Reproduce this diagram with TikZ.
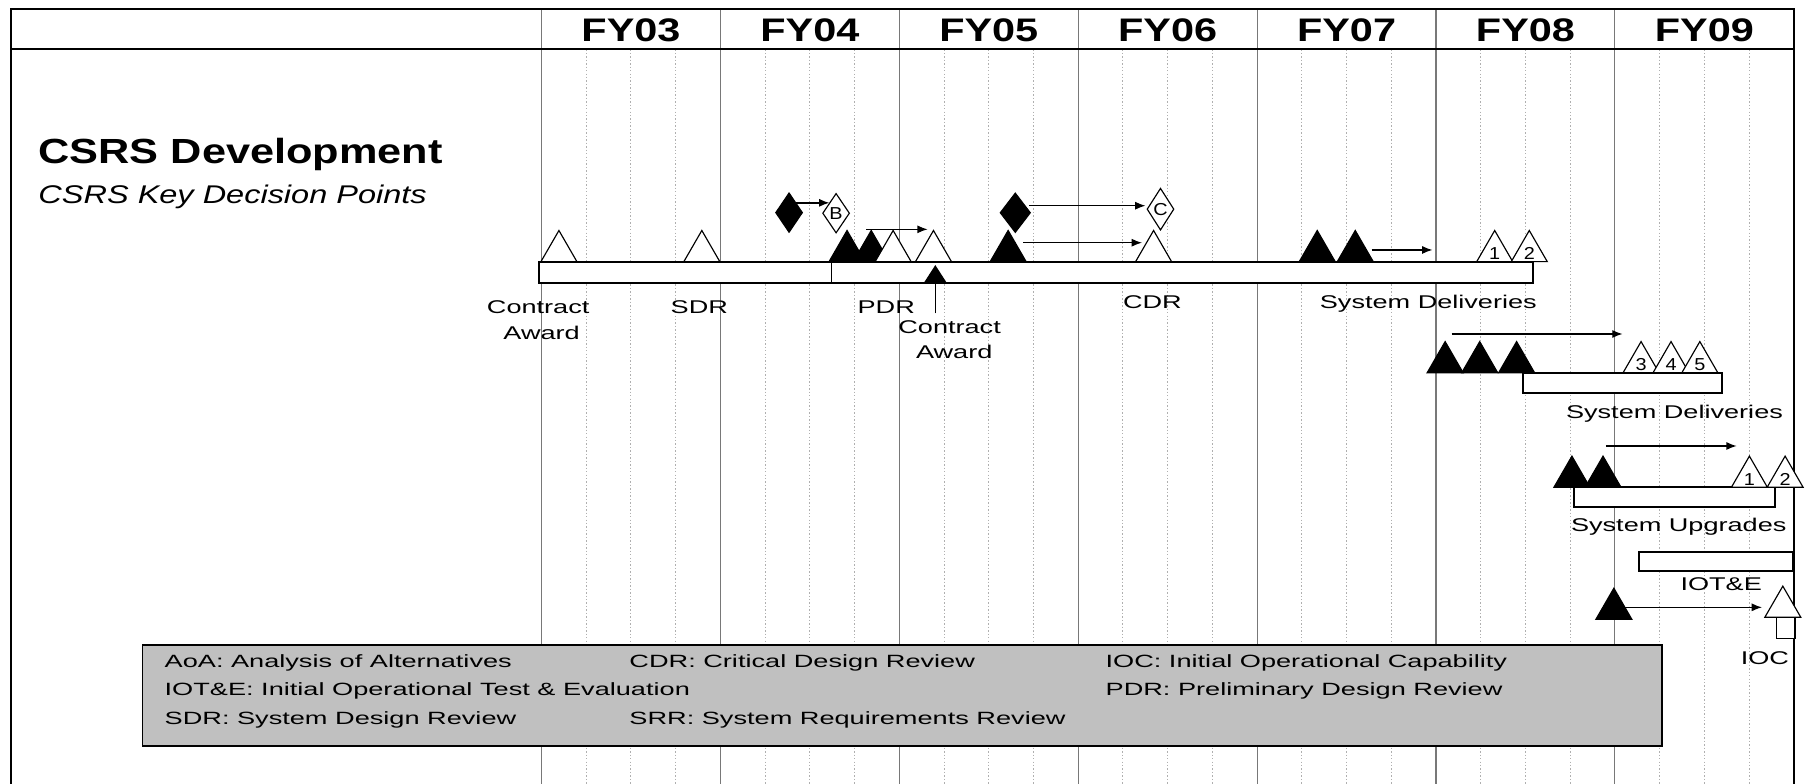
\documentclass[tikz,border=0pt]{standalone}
\usepackage{fontspec}
\setmainfont{Liberation Sans}
\newfontfamily\titlefont[FakeStretch=1.24]{Liberation Sans}
\newfontfamily\subfont[FakeStretch=1.27]{Liberation Sans}
\newfontfamily\hdrfont[FakeStretch=1.27]{Liberation Sans}
\newfontfamily\lblfont[FakeStretch=1.47]{Liberation Sans}
\newfontfamily\numfont[FakeStretch=1.15]{Liberation Sans}
\newfontfamily\legfont[FakeStretch=1.53]{Liberation Sans}
\usetikzlibrary{shapes.geometric,arrows.meta,calc}
\definecolor{legfill}{RGB}{192,192,192}
\definecolor{yrgray}{RGB}{120,120,120}
\definecolor{dotgray}{RGB}{175,175,175}
\begin{document}
\begin{tikzpicture}[x=1pt,y=-1pt,
  frame/.style={line width=1.6pt,black},
  yrline/.style={line width=1pt,yrgray},
  qline/.style={line width=0.9pt,dotgray,dash pattern=on 1.2pt off 1.8pt},
  bar/.style={draw,line width=1.6pt,fill=white,rectangle,inner sep=0pt,outer sep=0pt,anchor=north west},
  tri/.style={regular polygon,regular polygon sides=3,minimum size=36pt,inner sep=0pt,outer sep=0pt,draw,line width=1pt,anchor=side 2},
  otri/.style={tri,fill=white},
  ftri/.style={tri,fill=black},
  num/.style={font=\numfont\fontsize{15}{15}\selectfont,inner sep=0pt},
  dia/.style={diamond,draw,line width=1pt,inner sep=0pt,outer sep=0pt,minimum width=23pt,minimum height=34pt},
  odia/.style={dia,fill=white},
  fdia/.style={dia,fill=black},
  arr/.style={-{Latex[length=9pt,width=7pt]},line width=1.2pt},
  hdr/.style={font=\hdrfont\bfseries\fontsize{28.3}{30}\selectfont,anchor=base,inner sep=0pt},
  lbl/.style={font=\lblfont\fontsize{16}{18}\selectfont,anchor=base,inner sep=0pt},
  leg/.style={font=\legfont\fontsize{15.4}{17}\selectfont,anchor=base west,inner sep=0pt},
]
\useasboundingbox (0,0) rectangle (1568,680);
\fill[white] (0,0) rectangle (1568,680);

% quarter dotted lines
\foreach \k in {0,...,6}{
  \foreach \q in {0.25,0.5,0.75}{
    \draw[qline] ({469.9+155.23*(\k+\q)},42.8) -- ({469.9+155.23*(\k+\q)},680);
  }
}
% year lines
\foreach \k in {0,...,6}{
  \draw[yrline] ({469.9+155.23*\k},8) -- ({469.9+155.23*\k},680);
}
% frame and header
\draw[frame] (9.3,680) -- (9.3,8) -- (1556.5,8) -- (1556.5,680);
\draw[frame] (9.3,42.8) -- (1556.5,42.8);

% header labels
\foreach \lab [count=\i from 0] in {FY03,FY04,FY05,FY06,FY07,FY08,FY09}{
  \node[hdr] (hdr\i) at ({469.9+155.23*(\i+0.5)},36) {\lab};
}

% title
\node[font=\titlefont\bfseries\fontsize{30.3}{34}\selectfont,anchor=base west,inner sep=0pt] (title) at (33.2,141.7) {CSRS Development};
\node[font=\subfont\itshape\fontsize{22.2}{26}\selectfont,anchor=base west,inner sep=0pt] (subtitle) at (33.2,176.4) {CSRS Key Decision Points};

% ---------- bar 1 ----------
\node[bar,minimum width=254pt,minimum height=18.8pt] (bar1a) at (467.5,227) {};
\node[bar,minimum width=609pt,minimum height=18.8pt] (bar1b) at (721.5,227) {};

\node[otri] (ca1) at (485,227) {};
\node[otri] (sdr) at (609,227) {};
\node[ftri] (p1) at (735,227) {};
\node[ftri] (p2) at (756,227) {};
\node[otri] (p3) at (775,227) {};
\node[otri] (p4) at (810,227) {};
\node[ftri] (f5) at (874.8,227) {};
\node[otri] (cdr) at (1001,227) {};
\node[ftri] (f7a) at (1143,227) {};
\node[ftri] (f7b) at (1176,227) {};
\node[otri] (d1) at (1297,227) {};
\node[num] (d1n) at ([yshift=-2pt]d1.center) {1};
\node[otri] (d2) at (1327,227) {};
\node[num] (d2n) at ([yshift=-2pt]d2.center) {2};

\node[fdia] (fd1) at (684.7,184.5) {};
\node[odia] (od1) at (725.5,185) {};
\node[num] (od1n) at (od1.center) {B};
\node[fdia,minimum width=26pt] (fd2) at (881,184.6) {};
\node[odia,minimum height=36pt] (od2) at (1007,181.5) {};
\node[num] (od2n) at (od2.center) {C};

\draw[arr] (fd1.north east) -- (fd1.north east -| od1.north west);
\coordinate (a2s) at (751.5,199); \coordinate (a2e) at (805,199);
\draw[arr] (a2s) -- (a2e);
\coordinate (a3s) at (893,178.5); \coordinate (a3e) at (994,178.5);
\draw[arr] (a3s) -- (a3e);
\coordinate (a4s) at (887.7,210.6); \coordinate (a4e) at (991,210.6);
\draw[arr] (a4s) -- (a4e);
\coordinate (a5s) at (1190.2,216.9); \coordinate (a5e) at (1243,216.9);
\draw[arr] (a5s) -- (a5e);

% second contract award
\coordinate (ca2tail) at (811.6,272); \coordinate (ca2head) at (811.6,230);
\draw[-{Triangle[length=15pt,width=19pt]},line width=1.3pt] (ca2tail) -- (ca2head);

% labels bar 1
\node[lbl] (lca1a) at (467,271.9) {Contract};
\node[lbl] (lca1b) at (470,294.4) {Award};
\node[lbl] (lsdr) at (606.8,271.9) {SDR};
\node[lbl] (lpdr) at (769,271.9) {PDR};
\node[lbl] (lca2a) at (824,289.2) {Contract};
\node[lbl] (lca2b) at (828,310.9) {Award};
\node[lbl] (lcdr) at (1000,267.5) {CDR};
\node[lbl] (lsd1) at (1239.4,267.5) {System Deliveries};

% ---------- bar 2 ----------
\node[bar,minimum width=172.7pt,minimum height=16.8pt] (bar2) at (1321.2,323.9) {};
\node[ftri] (g1) at (1254,323.4) {};
\node[ftri] (g2) at (1284,323.4) {};
\node[ftri] (g3) at (1316,323.4) {};
\node[otri] (d3) at (1424,323.4) {};
\node[num] (d3n) at ([yshift=-2pt]d3.center) {3};
\node[otri] (d4) at (1450,323.4) {};
\node[num] (d4n) at ([yshift=-2pt]d4.center) {4};
\node[otri] (d5) at (1475,323.4) {};
\node[num] (d5n) at ([yshift=-2pt]d5.center) {5};
\coordinate (a6s) at (1259.6,289.8); \coordinate (a6e) at (1408,289.8);
\draw[arr] (a6s) -- (a6e);
\node[lbl] (lsd2) at (1453,363) {System Deliveries};

% ---------- bar 3 ----------
\node[bar,minimum width=174.5pt,minimum height=17.4pt] (bar3) at (1365.7,422.8) {};
\node[ftri] (u1) at (1364,422.8) {};
\node[ftri] (u2) at (1391,422.8) {};
\node[otri] (up1) at (1518,422.8) {};
\node[num] (up1n) at ([yshift=-2pt]up1.center) {1};
\node[otri] (up2) at (1549,422.8) {};
\node[num] (up2n) at ([yshift=-2pt]up2.center) {2};
\coordinate (a7s) at (1393.5,387); \coordinate (a7e) at (1507,387);
\draw[arr] (a7s) -- (a7e);
\node[lbl] (lsu) at (1456.7,461.3) {System Upgrades};

% ---------- bar 4 ----------
\node[bar,minimum width=133.5pt,minimum height=16.5pt] (bar4) at (1422.5,478.7) {};
\node[lbl] (liot) at (1493.5,512.5) {IOT\&E};

% ---------- IOC ----------
\node[ftri] (iocf) at (1400.4,537.4) {};
\node[draw,line width=1pt,fill=white,minimum width=16pt,minimum height=18.3pt,inner sep=0pt,anchor=north] (iocsq) at (1549.5,535.6) {};
\node[otri] (ioco) at (1547,535.6) {};
\coordinate (a8s) at (1408.6,527); \coordinate (a8e) at (1529,527);
\draw[arr] (a8s) -- (a8e);
\node[lbl] (lioc) at (1531.5,577) {IOC};

% ---------- legend ----------
\node[draw,line width=1.5pt,fill=legfill,rectangle,inner sep=0pt,anchor=north west,minimum width=1318.5pt,minimum height=87.6pt] (legend) at (122.8,558.8) {};
\node[leg] (l1) at (142.7,579) {AoA: Analysis of Alternatives};
\node[leg] (l2) at (546,579) {CDR: Critical Design Review};
\node[leg] (l3) at (959.2,579) {IOC: Initial Operational Capability};
\node[leg] (l4) at (142.7,603.1) {IOT\&E: Initial Operational Test \& Evaluation};
\node[leg] (l5) at (959.2,603.1) {PDR: Preliminary Design Review};
\node[leg] (l6) at (142.7,628.5) {SDR: System Design Review};
\node[leg] (l7) at (546,628.5) {SRR: System Requirements Review};
\end{tikzpicture}
\end{document}
